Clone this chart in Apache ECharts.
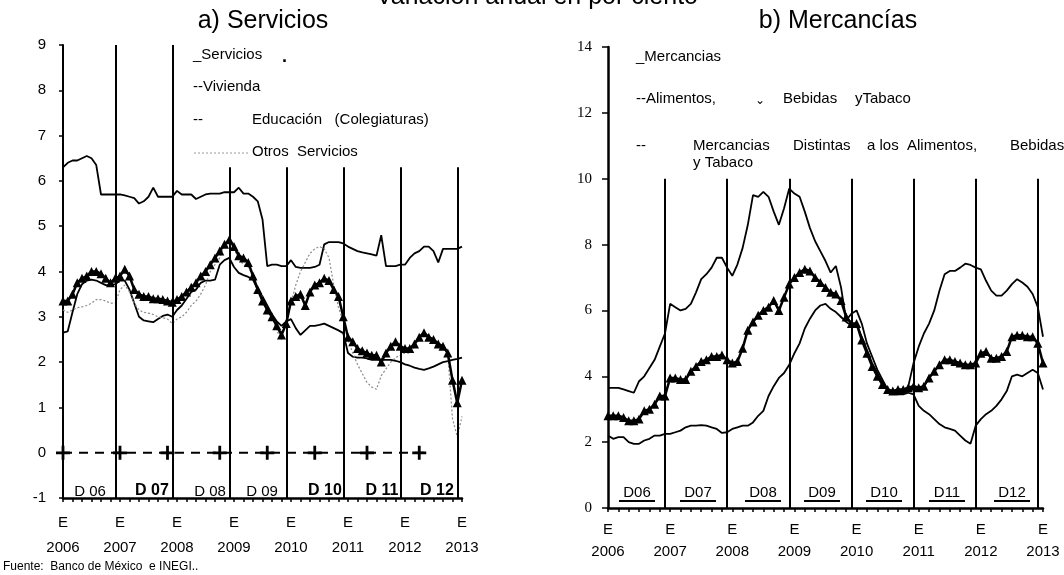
<!DOCTYPE html>
<html>
<head>
<meta charset="utf-8">
<script src="https://cdn.jsdelivr.net/npm/echarts@6/dist/echarts.min.js"></script>
<style>
html,body{margin:0;padding:0;background:#fff}
#main{width:1064px;height:575px}
</style>
</head>
<body>
<div id="main"></div>
<script>
// meses de ene 2006 a ene 2013
var meses = [];
for (var a = 2006; a <= 2013; a++) {
	for (var m = 1; m <= 12; m++) {
		if (meses.length < 85) meses.push(a + '-' + m);
	}
}

// a) Servicios
var servicios = [
	3.35, 3.35, 3.5, 3.75, 3.85, 3.9, 4.0, 4.0, 3.95, 3.85, 3.75, 3.85,
	3.9, 4.05, 3.9, 3.6, 3.5, 3.45, 3.45, 3.4, 3.4, 3.38, 3.35, 3.32,
	3.38, 3.45, 3.55, 3.65, 3.75, 3.9, 4.0, 4.15, 4.3, 4.45, 4.6, 4.7,
	4.55, 4.35, 4.3, 4.2, 3.9, 3.6, 3.35, 3.15, 3.0, 2.8, 2.6, 2.85,
	3.35, 3.45, 3.5, 3.25, 3.55, 3.7, 3.75, 3.85, 3.8, 3.6, 3.45, 3.0,
	2.55, 2.45, 2.3, 2.25, 2.2, 2.15, 2.15, 2.0, 2.2, 2.35, 2.45, 2.35,
	2.3, 2.3, 2.4, 2.55, 2.65, 2.55, 2.5, 2.4, 2.35, 2.2, 1.6, 1.1,
	1.6
];
var educacion = [
	6.3, 6.4, 6.45, 6.45, 6.5, 6.55, 6.5, 6.35, 5.7, 5.7, 5.7, 5.7,
	5.7, 5.68, 5.65, 5.62, 5.5, 5.55, 5.65, 5.85, 5.65, 5.65, 5.65, 5.65,
	5.78, 5.7, 5.7, 5.7, 5.6, 5.65, 5.7, 5.72, 5.72, 5.72, 5.75, 5.75,
	5.75, 5.85, 5.72, 5.72, 5.65, 5.55, 5.15, 4.12, 4.15, 4.15, 4.12, 4.12,
	4.25, 4.1, 4.08, 4.08, 4.08, 4.1, 4.15, 4.6, 4.65, 4.65, 4.65, 4.62,
	4.55, 4.5, 4.45, 4.42, 4.4, 4.38, 4.35, 4.8, 4.12, 4.12, 4.12, 4.15,
	4.15, 4.3, 4.4, 4.45, 4.55, 4.55, 4.45, 4.2, 4.5, 4.5, 4.5, 4.5,
	4.55
];
var vivienda = [
	2.65, 2.68, 3.1, 3.5, 3.72, 3.8, 3.82, 3.8, 3.75, 3.7, 3.7, 3.72,
	3.8, 3.8, 3.6, 3.3, 3.0, 2.92, 2.9, 2.88, 2.95, 3.02, 3.05, 3.0,
	3.15, 3.25, 3.4, 3.55, 3.6, 3.75, 3.8, 3.8, 3.82, 4.15, 4.25, 4.3,
	4.1, 3.97, 3.92, 3.88, 3.82, 3.6, 3.45, 3.25, 3.05, 2.9, 2.8, 2.9,
	2.95, 2.75, 2.6, 2.7, 2.8, 2.8, 2.82, 2.85, 2.8, 2.75, 2.7, 2.64,
	2.2, 2.12, 2.1, 2.1, 2.08, 2.05, 2.05, 2.05, 2.05, 2.05, 2.03, 2.0,
	1.95, 1.92, 1.88, 1.85, 1.83, 1.86, 1.9, 1.95, 2.0, 2.02, 2.05, 2.07,
	2.1
];
var otros = [
	3.15, 3.1, 3.15, 3.2, 3.22, 3.25, 3.3, 3.38, 3.38, 3.35, 3.3, 3.3,
	3.6, 3.7, 3.55, 3.3, 3.15, 3.1, 3.08, 3.05, 3.0, 2.98, 2.95, 2.85,
	2.95, 3.0, 3.1, 3.25, 3.35, 3.5, 3.7, 4.0, 4.15, 4.3, 4.6, 4.7,
	4.5, 4.3, 4.15, 4.1, 3.9, 3.65, 3.4, 3.2, 3.0, 2.7, 2.5, 2.9,
	3.3, 3.7, 4.0, 4.2, 4.4, 4.5, 4.55, 4.5, 4.3, 3.7, 3.2, 2.9,
	2.5, 2.2, 1.95, 1.75, 1.55, 1.45, 1.4, 1.7, 1.85, 2.0, 2.1, 2.15,
	2.2, 2.2, 2.35, 2.5, 2.65, 2.5, 2.4, 2.35, 2.3, 2.2, 0.75, 0.35,
	0.8
];
// linea punteada en cero con marcas "+"
var ceroLargo = 77;
var ceroMarcas = [0, 12, 22, 33, 43, 53, 64, 75];

// b) Mercancias
var mercancias = [
	2.8, 2.8, 2.8, 2.75, 2.65, 2.65, 2.7, 2.95, 3.0, 3.15, 3.4, 3.4,
	3.95, 3.95, 3.9, 3.9, 4.15, 4.3, 4.45, 4.5, 4.6, 4.6, 4.65, 4.5,
	4.4, 4.45, 4.85, 5.4, 5.65, 5.85, 6.0, 6.1, 6.3, 6.0, 6.4, 6.8,
	7.0, 7.15, 7.25, 7.2, 7.0, 6.85, 6.7, 6.55, 6.5, 6.3, 5.8, 5.6,
	5.6, 5.1, 4.7, 4.3, 4.0, 3.75, 3.6, 3.55, 3.6, 3.6, 3.65, 3.7,
	3.65, 3.7, 3.95, 4.15, 4.35, 4.5, 4.5, 4.45, 4.4, 4.35, 4.35, 4.4,
	4.7, 4.75, 4.55, 4.55, 4.6, 4.75, 5.2, 5.25, 5.25, 5.2, 5.2, 5.0,
	4.4
];
var alimentos = [
	3.65, 3.65, 3.65, 3.6, 3.55, 3.5, 3.85, 4.0, 4.25, 4.5, 4.9, 5.3,
	6.2, 6.1, 6.0, 6.05, 6.2, 6.55, 6.95, 7.1, 7.3, 7.6, 7.6, 7.3,
	7.05, 7.4, 7.9, 8.6, 9.5, 9.45, 9.6, 9.45, 9.0, 8.6, 9.1, 9.7,
	9.55, 9.45, 9.0, 8.5, 8.1, 7.8, 7.5, 7.15, 7.35, 6.7, 5.7, 5.9,
	6.0, 5.6, 5.0, 4.6, 4.2, 3.9, 3.6, 3.5, 3.45, 3.5, 3.7, 4.4,
	4.9, 5.3, 5.6, 6.0, 6.6, 7.1, 7.2, 7.2, 7.3, 7.42, 7.38, 7.3,
	7.25, 6.9, 6.6, 6.45, 6.45, 6.6, 6.8, 6.95, 6.85, 6.72, 6.5, 6.1,
	5.2
];
var distintas = [
	2.2, 2.1, 2.15, 2.15, 2.0, 1.95, 1.95, 2.05, 2.1, 2.2, 2.2, 2.25,
	2.25, 2.3, 2.35, 2.45, 2.5, 2.5, 2.52, 2.5, 2.45, 2.4, 2.28, 2.3,
	2.4, 2.45, 2.5, 2.5, 2.6, 2.8, 2.95, 3.4, 3.7, 3.95, 4.1, 4.35,
	4.7, 5.0, 5.45, 5.75, 6.0, 6.15, 6.2, 6.05, 5.95, 5.8, 5.65, 5.55,
	5.6, 5.2, 4.8, 4.4, 4.1, 3.8, 3.6, 3.5, 3.45, 3.45, 3.5, 3.45,
	3.1, 2.95, 2.85, 2.7, 2.55, 2.45, 2.4, 2.35, 2.2, 2.05, 1.95, 2.5,
	2.7, 2.85, 2.95, 3.1, 3.3, 3.55, 4.0, 4.05, 4.0, 4.1, 4.2, 4.1,
	3.6
];

// lineas verticales en diciembre de cada año
var diciembres = [11, 23, 35, 47, 59, 71, 83];
var topeIzq = [9, 9, 6.3, 6.3, 6.3, 6.3, 6.3];
var topeDer = 10;

var fuente = "'Liberation Sans', Arial, sans-serif";
var serif = "'Liberation Serif', 'Times New Roman', serif";

function lineasVerticales(topes, base) {
	var res = [];
	for (var i = 0; i < diciembres.length; i++) {
		var t = (typeof topes === 'number') ? topes : topes[i];
		res.push([{coord: [meses[diciembres[i]], base]}, {coord: [meses[diciembres[i]], t]}]);
	}
	return res;
}

var ceroData = [];
for (var i = 0; i < ceroLargo; i++) {
	if (ceroMarcas.indexOf(i) >= 0) {
		ceroData.push({value: 0, symbol: 'path://M0,4.5h11v2.2H0z M4.4,0h2.2v11h-2.2z', symbolSize: [14, 14]});
	} else {
		ceroData.push({value: 0, symbol: 'none'});
	}
}

function ejeX(idx, margen, alto) {
	return {
		type: 'category',
		gridIndex: idx,
		data: meses,
		boundaryGap: false,
		axisLine: {onZero: false, lineStyle: {color: '#000', width: 2.5}},
		axisTick: {show: true, interval: function (i) { return i % 2 === 0; }, length: 4, lineStyle: {color: '#000', width: 1.5}},
		axisLabel: {
			interval: function (i) { return i % 12 === 0; },
			formatter: function (v) { return 'E\n' + v.split('-')[0]; },
			color: '#000', fontSize: 15, fontFamily: fuente,
			lineHeight: alto, margin: margen, showMaxLabel: true
		},
		splitLine: {show: false}
	};
}

var textos = [];
function txt(x, y, s, opt) {
	opt = opt || {};
	textos.push({
		type: 'text', x: x, y: y, silent: true,
		style: {
			text: s,
			fill: '#000',
			font: (opt.weight || 'normal') + ' ' + (opt.size || 15) + 'px ' + (opt.family || fuente),
			align: opt.align || 'left', verticalAlign: 'middle'
		}
	});
}

// titulos
txt(537, -3, 'Variación anual en por ciento', {size: 25, align: 'center'});
txt(263, 21, 'a) Servicios', {size: 25, align: 'center'});
txt(838, 21, 'b) Mercancías', {size: 25, align: 'center'});

// leyenda a)
txt(193, 55, '_Servicios', {});
txt(282, 57, '.', {size: 18, weight: 'bold'});
txt(193, 87, '--Vivienda', {});
txt(193, 120, '--', {});
txt(252, 120, 'Educación   (Colegiaturas)', {});
txt(252, 152, 'Otros  Servicios', {});
textos.push({type: 'line', silent: true, shape: {x1: 194, y1: 153, x2: 250, y2: 153},
	style: {stroke: '#999', lineWidth: 1, lineDash: [2, 2]}});

// leyenda b)
txt(636, 57, '_Mercancias', {});
txt(636, 99, '--Alimentos,', {});
txt(755, 101, '⌄', {size: 12});
txt(783, 99, 'Bebidas', {});
txt(855, 99, 'yTabaco', {});
txt(636, 146, '--', {});
txt(693, 146, 'Mercancias', {});
txt(793, 146, 'Distintas', {});
txt(867, 146, 'a los  Alimentos,', {});
txt(1010, 146, 'Bebidas', {});
txt(693, 163, 'y Tabaco', {});

// etiquetas D (a)
txt(90, 492, 'D 06', {size: 15, align: 'center'});
txt(152, 491, 'D 07', {size: 16, weight: 'bold', align: 'center'});
txt(210, 492, 'D 08', {size: 15, align: 'center'});
txt(262, 492, 'D 09', {size: 15, align: 'center'});
txt(325, 491, 'D 10', {size: 16, weight: 'bold', align: 'center'});
txt(382, 491, 'D 11', {size: 16, weight: 'bold', align: 'center'});
txt(437, 491, 'D 12', {size: 16, weight: 'bold', align: 'center'});

// etiquetas D (b), subrayadas
var dDer = [['D06', 637], ['D07', 698], ['D08', 763], ['D09', 822], ['D10', 884], ['D11', 947], ['D12', 1012]];
dDer.forEach(function (d) {
	txt(d[1], 493, d[0], {size: 15, align: 'center'});
	textos.push({type: 'line', silent: true, shape: {x1: d[1] - 18, y1: 501, x2: d[1] + 18, y2: 501},
		style: {stroke: '#000', lineWidth: 2}});
});

// fuente
txt(3, 567, 'Fuente:  Banco de México  e INEGI..', {size: 12});

var chart = echarts.init(document.getElementById('main'));
chart.setOption({
	animation: false,
	backgroundColor: '#fff',
	grid: [
		{left: 63, top: 45, width: 399, height: 453},
		{left: 608, top: 47, width: 435, height: 461}
	],
	xAxis: [ejeX(0, 12, 25), ejeX(1, 11, 22)],
	yAxis: [
		{
			type: 'value', gridIndex: 0, min: -1, max: 9, interval: 1,
			axisLine: {show: true, lineStyle: {color: '#000', width: 2}},
			axisTick: {show: true, length: 4, lineStyle: {color: '#000', width: 1.5}},
			axisLabel: {color: '#000', fontSize: 15, fontFamily: fuente, margin: 17},
			splitLine: {show: false}
		},
		{
			type: 'value', gridIndex: 1, min: 0, max: 14, interval: 2,
			axisLine: {show: true, lineStyle: {color: '#000', width: 2.5}},
			axisTick: {show: true, length: 6, lineStyle: {color: '#000', width: 1.5}},
			axisLabel: {color: '#000', fontSize: 15, fontFamily: serif, margin: 16},
			splitLine: {show: false}
		}
	],
	series: [
		{
			name: 'cero', type: 'line', xAxisIndex: 0, yAxisIndex: 0, data: ceroData,
			lineStyle: {color: '#000', width: 2, type: [9, 7]},
			itemStyle: {color: '#000'}, showAllSymbol: true, z: 3,
			markLine: {
				silent: true, symbol: ['none', 'none'], label: {show: false},
				lineStyle: {color: '#000', width: 2, type: 'solid'},
				data: lineasVerticales(topeIzq, -1)
			}
		},
		{
			name: 'Educación (Colegiaturas)', type: 'line', xAxisIndex: 0, yAxisIndex: 0, data: educacion,
			symbol: 'none', lineStyle: {color: '#000', width: 1.8}, z: 4
		},
		{
			name: 'Vivienda', type: 'line', xAxisIndex: 0, yAxisIndex: 0, data: vivienda,
			symbol: 'none', lineStyle: {color: '#000', width: 1.8}, z: 4
		},
		{
			name: 'Otros Servicios', type: 'line', xAxisIndex: 0, yAxisIndex: 0, data: otros,
			symbol: 'none', lineStyle: {color: '#8a8a8a', width: 1.2, type: [2, 2]}, z: 4
		},
		{
			name: 'Servicios', type: 'line', xAxisIndex: 0, yAxisIndex: 0, data: servicios,
			symbol: 'triangle', symbolSize: 9, showAllSymbol: true,
			itemStyle: {color: '#000'}, lineStyle: {color: '#000', width: 2.5}, z: 5
		},
		{
			name: 'Alimentos, Bebidas y Tabaco', type: 'line', xAxisIndex: 1, yAxisIndex: 1, data: alimentos,
			symbol: 'none', lineStyle: {color: '#000', width: 1.8}, z: 4,
			markLine: {
				silent: true, symbol: ['none', 'none'], label: {show: false},
				lineStyle: {color: '#000', width: 2, type: 'solid'},
				data: lineasVerticales(topeDer, 0)
			}
		},
		{
			name: 'Mercancias Distintas a los Alimentos, Bebidas y Tabaco', type: 'line', xAxisIndex: 1, yAxisIndex: 1, data: distintas,
			symbol: 'none', lineStyle: {color: '#000', width: 1.8}, z: 4
		},
		{
			name: 'Mercancias', type: 'line', xAxisIndex: 1, yAxisIndex: 1, data: mercancias,
			symbol: 'triangle', symbolSize: 9, showAllSymbol: true,
			itemStyle: {color: '#000'}, lineStyle: {color: '#000', width: 2.5}, z: 5
		}
	],
	graphic: textos
});
</script>
</body>
</html>
